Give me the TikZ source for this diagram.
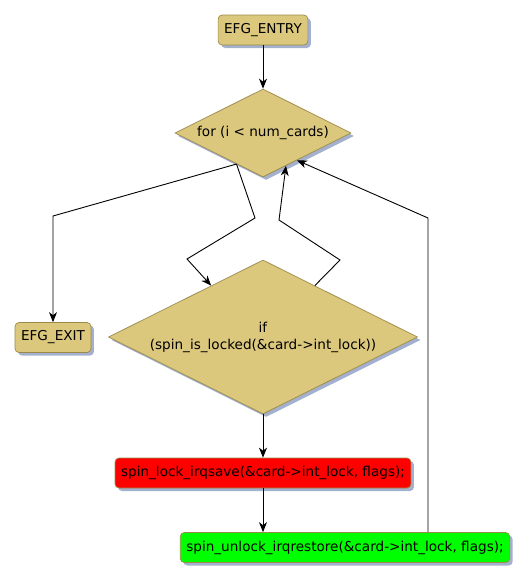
\documentclass[tikz,border=0pt]{standalone}
\usepackage{fontspec}
\setmainfont{DejaVu Sans}
\usetikzlibrary{shapes.geometric,shadows,arrows.meta,calc}
\definecolor{tanfill}{HTML}{DBC87D}
\definecolor{tanborder}{HTML}{9C8A4A}
\definecolor{shadowc}{HTML}{A3B1CF}
\definecolor{boxred}{HTML}{FF0000}
\definecolor{boxgreen}{HTML}{00FF00}
\tikzset{
  shad/.style={drop shadow={shadow xshift=3pt,shadow yshift=-3pt,fill=shadowc,opacity=1}},
  term/.style={shad,draw=tanborder,fill=tanfill,rounded corners=4pt,inner xsep=6pt,minimum height=30pt,line width=0.7pt},
  proc/.style={shad,draw=tanborder,rounded corners=4pt,inner xsep=6pt,minimum height=30pt,line width=0.7pt},
  dec/.style={shad,diamond,aspect=2,draw=tanborder,fill=tanfill,inner sep=0pt,align=center,line width=0.7pt},
  conn/.style={draw=black,line width=0.9pt},
  arr/.style={conn,-{Stealth[length=10pt,width=8pt,inset=3pt]}}
}
\begin{document}
\begin{tikzpicture}[x=1pt,y=-1pt,font=\fontsize{13.6}{17}\selectfont]
\useasboundingbox (0,0) rectangle (529,581);
\node[term] (entry) at (263,30) {EFG\_ENTRY};
\node[dec,minimum width=176pt,minimum height=88pt] (for) at (263,133) {for (i < num\_cards)};
\node[dec,minimum width=309pt,minimum height=154pt] (if) at (263,337) {if\\(spin\_is\_locked(\&card->int\_lock))};
\node[term] (exit) at (53,337.5) {EFG\_EXIT};
\node[proc,fill=boxred] (lock) at (263,473) {spin\_lock\_irqsave(\&card->int\_lock, flags);};
\node[proc,fill=boxgreen] (unlock) at (345,547.5) {spin\_unlock\_irqrestore(\&card->int\_lock, flags);};

\coordinate (forout) at ($(for.south)!0.3!(for.west)$);
\coordinate (forin1) at ($(for.south)!0.26!(for.east)$);
\coordinate (forin2) at ($(for.south)!0.385!(for.east)$);
\coordinate (ifin) at ($(if.north)!0.335!(if.west)$);
\coordinate (ifout) at ($(if.north)!0.335!(if.east)$);
\coordinate (b1) at (53,216);
\coordinate (b2) at (255,218);
\coordinate (b3) at (187,259);
\coordinate (b4) at (340,260);
\coordinate (b5) at (279,220);
\coordinate (b6) at (428,218);

\draw[arr] (entry) -- (for.north);
\draw[arr] (forout) -- (b1) -- (exit.north);
\draw[arr] (forout) -- (b2) -- (b3) -- (ifin);
\draw[arr] (ifout) -- (b4) -- (b5) -- (forin1);
\draw[arr] (b6 |- unlock.north) -- (b6) -- (forin2);
\draw[arr] (if.south) -- (lock.north);
\draw[arr] (lock.south) -- (lock.south |- unlock.north);
\end{tikzpicture}
\end{document}
